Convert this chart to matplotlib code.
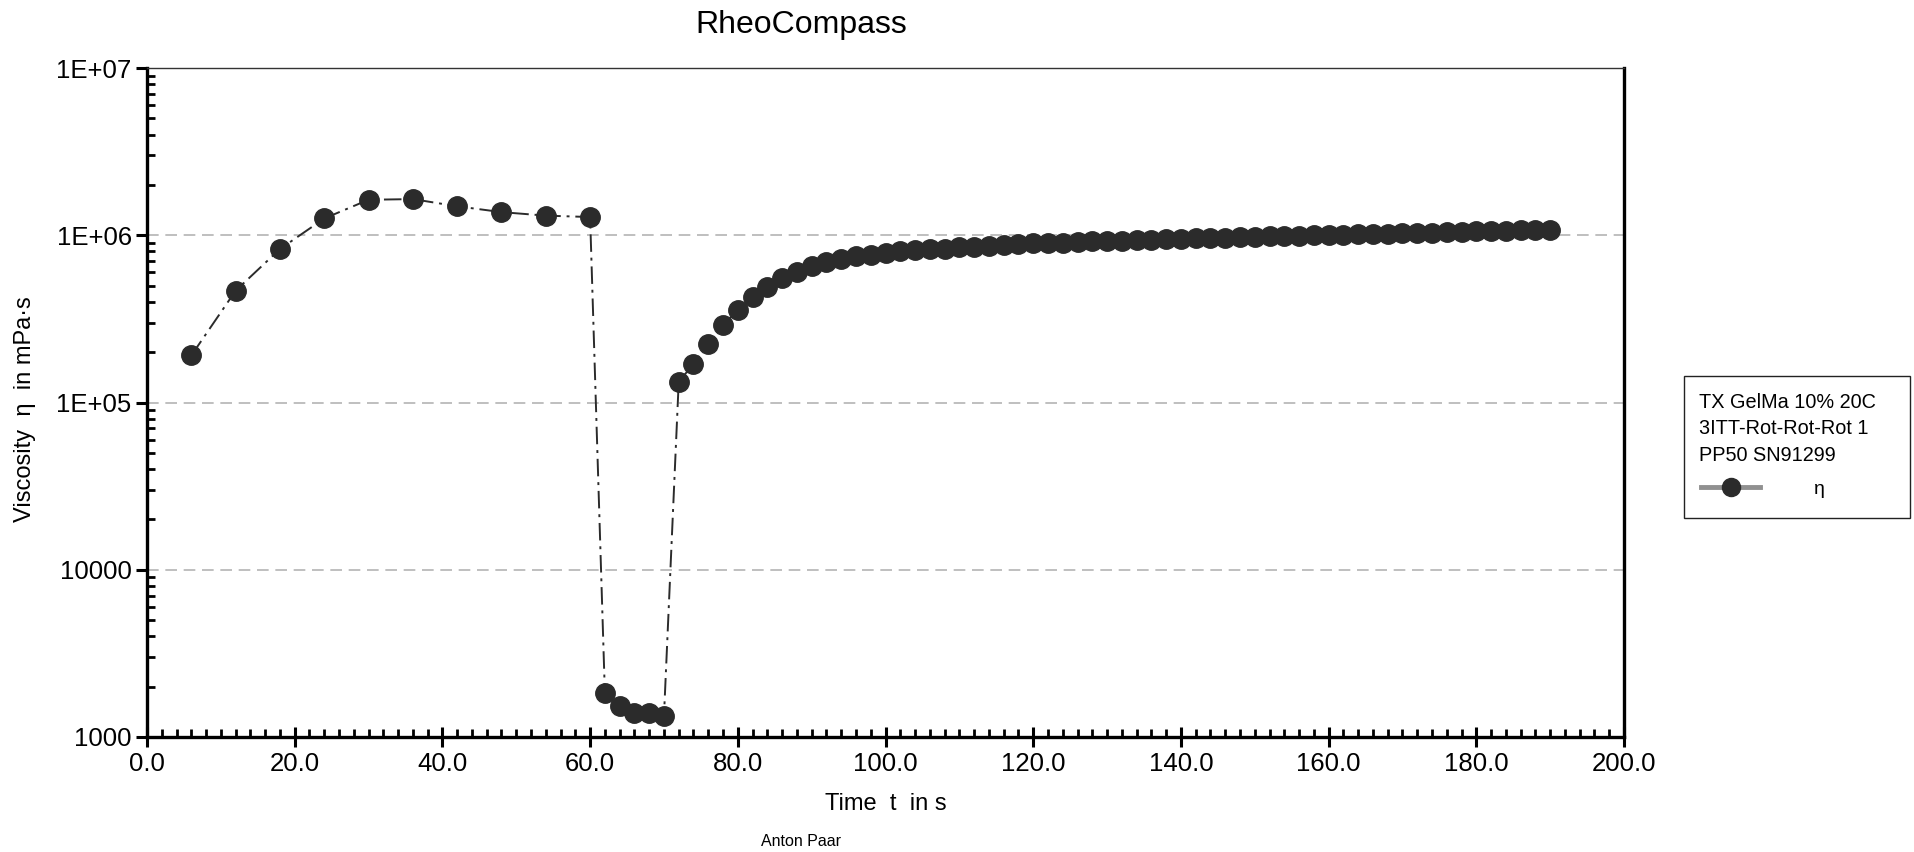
import matplotlib
matplotlib.use("Agg")
import matplotlib.pyplot as plt
from matplotlib.lines import Line2D
from matplotlib.patches import Rectangle
from matplotlib.ticker import FixedLocator, FixedFormatter, LogLocator, NullFormatter, MultipleLocator

plt.rcParams['font.family'] = ['Liberation Sans', 'DejaVu Sans']

# ---------------- data ----------------
time_s = [6, 12, 18, 24, 30, 36, 42, 48, 54, 60,
          62, 64, 66, 68, 70,
          72, 74, 76, 78, 80, 82, 84, 86, 88, 90,
          92, 94, 96, 98, 100, 102, 104, 106, 108, 110,
          112, 114, 116, 118, 120, 122, 124, 126, 128, 130,
          132, 134, 136, 138, 140, 142, 144, 146, 148, 150,
          152, 154, 156, 158, 160, 162, 164, 166, 168, 170,
          172, 174, 176, 178, 180, 182, 184, 186, 188, 190]
viscosity_mpas = [1.91e5, 4.66e5, 8.27e5, 1.26e6, 1.63e6, 1.645e6, 1.49e6, 1.375e6, 1.31e6, 1.285e6,
                  1830, 1530, 1400, 1385, 1330,
                  1.33e5, 1.70e5, 2.25e5, 2.90e5, 3.56e5, 4.26e5, 4.91e5, 5.53e5, 6.07e5, 6.54e5,
                  6.94e5, 7.22e5, 7.47e5, 7.66e5, 7.81e5, 8.01e5, 8.13e5, 8.25e5, 8.33e5, 8.45e5,
                  8.54e5, 8.67e5, 8.75e5, 8.84e5, 8.93e5, 8.98e5, 9.05e5, 9.12e5, 9.18e5, 9.24e5,
                  9.30e5, 9.36e5, 9.41e5, 9.47e5, 9.52e5, 9.58e5, 9.63e5, 9.68e5, 9.73e5, 9.78e5,
                  9.83e5, 9.88e5, 9.93e5, 9.98e5, 1.003e6, 1.008e6, 1.013e6, 1.018e6, 1.023e6, 1.028e6,
                  1.033e6, 1.038e6, 1.043e6, 1.048e6, 1.053e6, 1.058e6, 1.063e6, 1.068e6, 1.073e6, 1.08e6]

y_ticks = [1e3, 1e4, 1e5, 1e6, 1e7]
y_tick_labels = ["1000", "10000", "1E+05", "1E+06", "1E+07"]
x_ticks = [0, 20, 40, 60, 80, 100, 120, 140, 160, 180, 200]
x_tick_labels = ["0.0", "20.0", "40.0", "60.0", "80.0", "100.0", "120.0", "140.0", "160.0", "180.0", "200.0"]
legend_lines = ["TX GelMa 10% 20C", "3ITT-Rot-Rot-Rot 1", "PP50 SN91299"]
series_name = "η"

# ---------------- figure ----------------
W, H = 1914, 852
fig = plt.figure(figsize=(W / 100, H / 100), dpi=100)
L, R, T, B = 147, 1624, 68, 737
ax = fig.add_axes([L / W, 1 - B / H, (R - L) / W, (B - T) / H])

mark_color = "#2b2b2b"
ax.plot(time_s, viscosity_mpas, color=mark_color, lw=1.4,
        linestyle=(0, (9, 3, 1.5, 3)), marker="o", markersize=14,
        markerfacecolor=mark_color, markeredgecolor=mark_color, zorder=3)

ax.set_yscale("log")
ax.set_xlim(0, 200)
ax.set_ylim(1e3, 1e7)

ax.yaxis.set_major_locator(FixedLocator(y_ticks))
ax.yaxis.set_major_formatter(FixedFormatter(y_tick_labels))
ax.yaxis.set_minor_locator(LogLocator(base=10, subs=range(2, 10), numticks=20))
ax.yaxis.set_minor_formatter(NullFormatter())
ax.xaxis.set_major_locator(FixedLocator(x_ticks))
ax.xaxis.set_major_formatter(FixedFormatter(x_tick_labels))
ax.xaxis.set_minor_locator(MultipleLocator(2))

ax.grid(axis="y", which="major", color="#b4b4b4", linestyle=(0, (7, 4)), lw=1.2, zorder=0)

for s in ["left", "bottom", "right"]:
    ax.spines[s].set_linewidth(2.4)
    ax.spines[s].set_color("black")
ax.spines["top"].set_linewidth(1.0)
ax.spines["top"].set_color("#333333")

ax.tick_params(axis="y", which="major", direction="out", length=8, width=2.2, pad=3, labelsize=18.5)
ax.tick_params(axis="y", which="minor", direction="in", length=6, width=2.0)
ax.tick_params(axis="x", which="major", direction="inout", length=14, width=2.2, pad=4, labelsize=18.5)
ax.tick_params(axis="x", which="minor", direction="in", length=6, width=2.0)

ax.set_xlabel("Time  t  in s", fontsize=17, labelpad=12)
ax.set_ylabel("Viscosity  η  in mPa·s", fontsize=17, labelpad=15)
ax.yaxis.label.set_y(0.49)

fig.text(801 / W, 1 - 25 / H, "RheoCompass", ha="center", va="center", fontsize=23)
fig.text(801 / W, 1 - 842 / H, "Anton Paar", ha="center", va="center", fontsize=11.5)

# legend box
lx0, ly0, lx1, ly1 = 1684, 376, 1910, 518
fig.patches.append(Rectangle((lx0 / W, 1 - ly1 / H), (lx1 - lx0) / W, (ly1 - ly0) / H,
                             transform=fig.transFigure, fill=False, edgecolor="#222222", lw=1.0))
for i, txt in enumerate(legend_lines):
    fig.text(1699 / W, 1 - (402 + 27 * i) / H, txt, ha="left", va="center", fontsize=14.3)
fig.lines.append(Line2D([1701 / W, 1760 / W], [1 - 487 / H, 1 - 487 / H], transform=fig.transFigure,
                        color="#909090", lw=3.5))
fig.lines.append(Line2D([1731 / W], [1 - 487 / H], transform=fig.transFigure, marker="o",
                        markersize=13, color=mark_color, lw=0))
fig.text(1819 / W, 1 - 490 / H, series_name, ha="center", va="center", fontsize=14)

fig.savefig("out.png", dpi=100)
